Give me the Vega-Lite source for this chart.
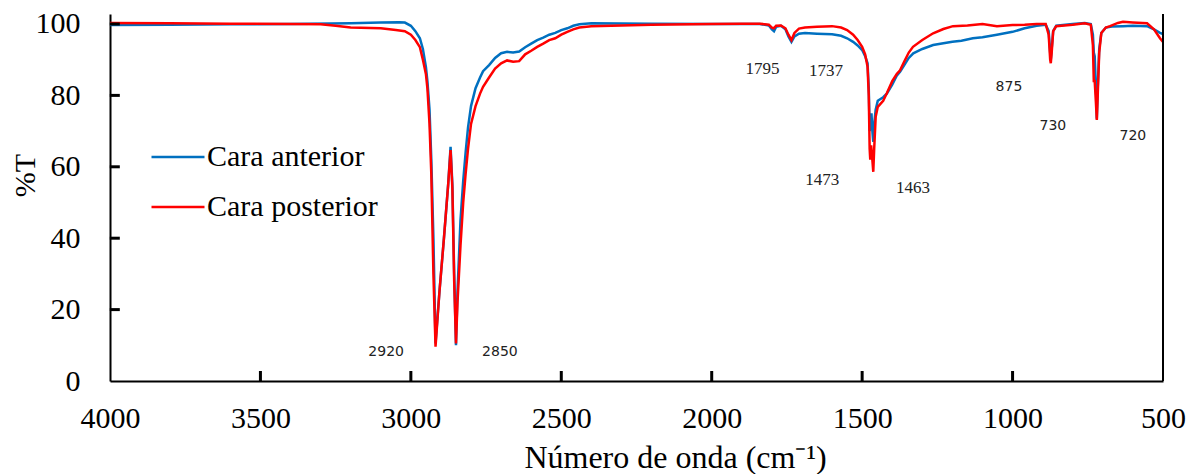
{
  "$schema": "https://vega.github.io/schema/vega-lite/v6.json",
  "width": 1053,
  "height": 367,
  "autosize": "none",
  "padding": {"left": 110, "top": 14, "right": 26, "bottom": 93},
  "background": "white",
  "config": {
    "view": {"stroke": null},
    "font": "Liberation Serif"
  },
  "datasets": {
    "spec": [
      {"wn": 4000, "T": 99.7, "s": "Cara anterior"},
      {"wn": 3800, "T": 99.8, "s": "Cara anterior"},
      {"wn": 3600, "T": 99.9, "s": "Cara anterior"},
      {"wn": 3400, "T": 100.0, "s": "Cara anterior"},
      {"wn": 3200, "T": 100.2, "s": "Cara anterior"},
      {"wn": 3100, "T": 100.4, "s": "Cara anterior"},
      {"wn": 3040, "T": 100.5, "s": "Cara anterior"},
      {"wn": 3020, "T": 100.4, "s": "Cara anterior"},
      {"wn": 3000, "T": 99.5, "s": "Cara anterior"},
      {"wn": 2985, "T": 98, "s": "Cara anterior"},
      {"wn": 2970, "T": 96, "s": "Cara anterior"},
      {"wn": 2960, "T": 93, "s": "Cara anterior"},
      {"wn": 2950, "T": 88, "s": "Cara anterior"},
      {"wn": 2945, "T": 84, "s": "Cara anterior"},
      {"wn": 2938, "T": 76, "s": "Cara anterior"},
      {"wn": 2932, "T": 62, "s": "Cara anterior"},
      {"wn": 2925, "T": 40, "s": "Cara anterior"},
      {"wn": 2918, "T": 10.5, "s": "Cara anterior"},
      {"wn": 2905, "T": 25, "s": "Cara anterior"},
      {"wn": 2890, "T": 40, "s": "Cara anterior"},
      {"wn": 2876, "T": 55, "s": "Cara anterior"},
      {"wn": 2868, "T": 65.6, "s": "Cara anterior"},
      {"wn": 2862, "T": 55, "s": "Cara anterior"},
      {"wn": 2856, "T": 30, "s": "Cara anterior"},
      {"wn": 2850, "T": 10, "s": "Cara anterior"},
      {"wn": 2845, "T": 25, "s": "Cara anterior"},
      {"wn": 2835, "T": 45, "s": "Cara anterior"},
      {"wn": 2826, "T": 56, "s": "Cara anterior"},
      {"wn": 2818, "T": 64, "s": "Cara anterior"},
      {"wn": 2810, "T": 71, "s": "Cara anterior"},
      {"wn": 2800, "T": 77, "s": "Cara anterior"},
      {"wn": 2785, "T": 82, "s": "Cara anterior"},
      {"wn": 2770, "T": 85, "s": "Cara anterior"},
      {"wn": 2760, "T": 86.8, "s": "Cara anterior"},
      {"wn": 2740, "T": 88.5, "s": "Cara anterior"},
      {"wn": 2720, "T": 90.5, "s": "Cara anterior"},
      {"wn": 2700, "T": 91.8, "s": "Cara anterior"},
      {"wn": 2680, "T": 92.2, "s": "Cara anterior"},
      {"wn": 2660, "T": 92, "s": "Cara anterior"},
      {"wn": 2640, "T": 92.3, "s": "Cara anterior"},
      {"wn": 2620, "T": 93.5, "s": "Cara anterior"},
      {"wn": 2600, "T": 94.5, "s": "Cara anterior"},
      {"wn": 2580, "T": 95.5, "s": "Cara anterior"},
      {"wn": 2560, "T": 96.2, "s": "Cara anterior"},
      {"wn": 2540, "T": 97, "s": "Cara anterior"},
      {"wn": 2520, "T": 97.5, "s": "Cara anterior"},
      {"wn": 2500, "T": 98.3, "s": "Cara anterior"},
      {"wn": 2480, "T": 98.8, "s": "Cara anterior"},
      {"wn": 2460, "T": 99.5, "s": "Cara anterior"},
      {"wn": 2440, "T": 99.9, "s": "Cara anterior"},
      {"wn": 2400, "T": 100.2, "s": "Cara anterior"},
      {"wn": 2200, "T": 100.1, "s": "Cara anterior"},
      {"wn": 2000, "T": 100, "s": "Cara anterior"},
      {"wn": 1900, "T": 100, "s": "Cara anterior"},
      {"wn": 1840, "T": 100, "s": "Cara anterior"},
      {"wn": 1810, "T": 99.6, "s": "Cara anterior"},
      {"wn": 1800, "T": 98.5, "s": "Cara anterior"},
      {"wn": 1793, "T": 98.0, "s": "Cara anterior"},
      {"wn": 1786, "T": 99.2, "s": "Cara anterior"},
      {"wn": 1770, "T": 99.5, "s": "Cara anterior"},
      {"wn": 1755, "T": 98.5, "s": "Cara anterior"},
      {"wn": 1745, "T": 96.5, "s": "Cara anterior"},
      {"wn": 1735, "T": 95, "s": "Cara anterior"},
      {"wn": 1725, "T": 96.5, "s": "Cara anterior"},
      {"wn": 1710, "T": 97.3, "s": "Cara anterior"},
      {"wn": 1690, "T": 97.5, "s": "Cara anterior"},
      {"wn": 1650, "T": 97.3, "s": "Cara anterior"},
      {"wn": 1600, "T": 97.1, "s": "Cara anterior"},
      {"wn": 1570, "T": 96.7, "s": "Cara anterior"},
      {"wn": 1550, "T": 96, "s": "Cara anterior"},
      {"wn": 1530, "T": 95, "s": "Cara anterior"},
      {"wn": 1515, "T": 94, "s": "Cara anterior"},
      {"wn": 1500, "T": 92.7, "s": "Cara anterior"},
      {"wn": 1490, "T": 91, "s": "Cara anterior"},
      {"wn": 1482, "T": 89, "s": "Cara anterior"},
      {"wn": 1478, "T": 82, "s": "Cara anterior"},
      {"wn": 1475, "T": 70, "s": "Cara anterior"},
      {"wn": 1472, "T": 72, "s": "Cara anterior"},
      {"wn": 1469, "T": 75, "s": "Cara anterior"},
      {"wn": 1466, "T": 70, "s": "Cara anterior"},
      {"wn": 1463, "T": 67, "s": "Cara anterior"},
      {"wn": 1460, "T": 72, "s": "Cara anterior"},
      {"wn": 1455, "T": 76, "s": "Cara anterior"},
      {"wn": 1448, "T": 78.5, "s": "Cara anterior"},
      {"wn": 1430, "T": 79.5, "s": "Cara anterior"},
      {"wn": 1418, "T": 80.5, "s": "Cara anterior"},
      {"wn": 1400, "T": 83, "s": "Cara anterior"},
      {"wn": 1385, "T": 85.5, "s": "Cara anterior"},
      {"wn": 1374, "T": 86.6, "s": "Cara anterior"},
      {"wn": 1360, "T": 88.5, "s": "Cara anterior"},
      {"wn": 1345, "T": 90.5, "s": "Cara anterior"},
      {"wn": 1330, "T": 91.8, "s": "Cara anterior"},
      {"wn": 1300, "T": 93, "s": "Cara anterior"},
      {"wn": 1264, "T": 94.1, "s": "Cara anterior"},
      {"wn": 1230, "T": 94.6, "s": "Cara anterior"},
      {"wn": 1200, "T": 95, "s": "Cara anterior"},
      {"wn": 1170, "T": 95.3, "s": "Cara anterior"},
      {"wn": 1132, "T": 96, "s": "Cara anterior"},
      {"wn": 1100, "T": 96.3, "s": "Cara anterior"},
      {"wn": 1052, "T": 97, "s": "Cara anterior"},
      {"wn": 1000, "T": 97.8, "s": "Cara anterior"},
      {"wn": 960, "T": 98.8, "s": "Cara anterior"},
      {"wn": 920, "T": 99.5, "s": "Cara anterior"},
      {"wn": 890, "T": 99.8, "s": "Cara anterior"},
      {"wn": 880, "T": 98, "s": "Cara anterior"},
      {"wn": 875, "T": 92, "s": "Cara anterior"},
      {"wn": 873, "T": 90, "s": "Cara anterior"},
      {"wn": 870, "T": 93, "s": "Cara anterior"},
      {"wn": 865, "T": 98, "s": "Cara anterior"},
      {"wn": 855, "T": 99.5, "s": "Cara anterior"},
      {"wn": 800, "T": 100, "s": "Cara anterior"},
      {"wn": 760, "T": 100.3, "s": "Cara anterior"},
      {"wn": 740, "T": 100, "s": "Cara anterior"},
      {"wn": 733, "T": 97, "s": "Cara anterior"},
      {"wn": 730, "T": 92, "s": "Cara anterior"},
      {"wn": 727, "T": 91, "s": "Cara anterior"},
      {"wn": 722, "T": 80, "s": "Cara anterior"},
      {"wn": 720, "T": 73.5, "s": "Cara anterior"},
      {"wn": 717, "T": 82, "s": "Cara anterior"},
      {"wn": 712, "T": 93, "s": "Cara anterior"},
      {"wn": 705, "T": 97.5, "s": "Cara anterior"},
      {"wn": 690, "T": 99, "s": "Cara anterior"},
      {"wn": 670, "T": 99.3, "s": "Cara anterior"},
      {"wn": 633, "T": 99.4, "s": "Cara anterior"},
      {"wn": 600, "T": 99.5, "s": "Cara anterior"},
      {"wn": 553, "T": 99.4, "s": "Cara anterior"},
      {"wn": 530, "T": 98.5, "s": "Cara anterior"},
      {"wn": 510, "T": 97.5, "s": "Cara anterior"},
      {"wn": 500, "T": 97.2, "s": "Cara anterior"},

      {"wn": 4000, "T": 100.3, "s": "Cara posterior"},
      {"wn": 3800, "T": 100.2, "s": "Cara posterior"},
      {"wn": 3600, "T": 100.1, "s": "Cara posterior"},
      {"wn": 3400, "T": 100.0, "s": "Cara posterior"},
      {"wn": 3300, "T": 99.9, "s": "Cara posterior"},
      {"wn": 3250, "T": 99.5, "s": "Cara posterior"},
      {"wn": 3200, "T": 99.0, "s": "Cara posterior"},
      {"wn": 3100, "T": 98.8, "s": "Cara posterior"},
      {"wn": 3050, "T": 98.3, "s": "Cara posterior"},
      {"wn": 3020, "T": 98, "s": "Cara posterior"},
      {"wn": 3000, "T": 97, "s": "Cara posterior"},
      {"wn": 2985, "T": 95.5, "s": "Cara posterior"},
      {"wn": 2970, "T": 93.5, "s": "Cara posterior"},
      {"wn": 2960, "T": 90, "s": "Cara posterior"},
      {"wn": 2950, "T": 86, "s": "Cara posterior"},
      {"wn": 2945, "T": 82, "s": "Cara posterior"},
      {"wn": 2938, "T": 72, "s": "Cara posterior"},
      {"wn": 2932, "T": 58, "s": "Cara posterior"},
      {"wn": 2925, "T": 30, "s": "Cara posterior"},
      {"wn": 2918, "T": 9.6, "s": "Cara posterior"},
      {"wn": 2905, "T": 25, "s": "Cara posterior"},
      {"wn": 2890, "T": 40, "s": "Cara posterior"},
      {"wn": 2876, "T": 55, "s": "Cara posterior"},
      {"wn": 2868, "T": 64.7, "s": "Cara posterior"},
      {"wn": 2862, "T": 54, "s": "Cara posterior"},
      {"wn": 2856, "T": 28, "s": "Cara posterior"},
      {"wn": 2850, "T": 10.5, "s": "Cara posterior"},
      {"wn": 2845, "T": 22, "s": "Cara posterior"},
      {"wn": 2835, "T": 38, "s": "Cara posterior"},
      {"wn": 2826, "T": 50, "s": "Cara posterior"},
      {"wn": 2818, "T": 58, "s": "Cara posterior"},
      {"wn": 2810, "T": 65, "s": "Cara posterior"},
      {"wn": 2800, "T": 72, "s": "Cara posterior"},
      {"wn": 2785, "T": 77, "s": "Cara posterior"},
      {"wn": 2770, "T": 80.5, "s": "Cara posterior"},
      {"wn": 2760, "T": 82.4, "s": "Cara posterior"},
      {"wn": 2740, "T": 85, "s": "Cara posterior"},
      {"wn": 2720, "T": 87.5, "s": "Cara posterior"},
      {"wn": 2700, "T": 89, "s": "Cara posterior"},
      {"wn": 2680, "T": 89.8, "s": "Cara posterior"},
      {"wn": 2660, "T": 89.4, "s": "Cara posterior"},
      {"wn": 2640, "T": 89.6, "s": "Cara posterior"},
      {"wn": 2620, "T": 91.5, "s": "Cara posterior"},
      {"wn": 2600, "T": 92.5, "s": "Cara posterior"},
      {"wn": 2580, "T": 93.6, "s": "Cara posterior"},
      {"wn": 2560, "T": 94.5, "s": "Cara posterior"},
      {"wn": 2540, "T": 95.5, "s": "Cara posterior"},
      {"wn": 2520, "T": 96, "s": "Cara posterior"},
      {"wn": 2500, "T": 97, "s": "Cara posterior"},
      {"wn": 2480, "T": 97.8, "s": "Cara posterior"},
      {"wn": 2460, "T": 98.5, "s": "Cara posterior"},
      {"wn": 2440, "T": 99, "s": "Cara posterior"},
      {"wn": 2400, "T": 99.4, "s": "Cara posterior"},
      {"wn": 2200, "T": 99.8, "s": "Cara posterior"},
      {"wn": 2000, "T": 100, "s": "Cara posterior"},
      {"wn": 1900, "T": 100.1, "s": "Cara posterior"},
      {"wn": 1840, "T": 100.1, "s": "Cara posterior"},
      {"wn": 1810, "T": 99.8, "s": "Cara posterior"},
      {"wn": 1800, "T": 99, "s": "Cara posterior"},
      {"wn": 1793, "T": 98.8, "s": "Cara posterior"},
      {"wn": 1786, "T": 99.5, "s": "Cara posterior"},
      {"wn": 1770, "T": 99.6, "s": "Cara posterior"},
      {"wn": 1755, "T": 98.8, "s": "Cara posterior"},
      {"wn": 1745, "T": 97, "s": "Cara posterior"},
      {"wn": 1735, "T": 95.5, "s": "Cara posterior"},
      {"wn": 1725, "T": 97.5, "s": "Cara posterior"},
      {"wn": 1710, "T": 98.7, "s": "Cara posterior"},
      {"wn": 1690, "T": 99, "s": "Cara posterior"},
      {"wn": 1650, "T": 99.2, "s": "Cara posterior"},
      {"wn": 1600, "T": 99.4, "s": "Cara posterior"},
      {"wn": 1570, "T": 99, "s": "Cara posterior"},
      {"wn": 1550, "T": 98.3, "s": "Cara posterior"},
      {"wn": 1530, "T": 97, "s": "Cara posterior"},
      {"wn": 1515, "T": 95.5, "s": "Cara posterior"},
      {"wn": 1500, "T": 93.6, "s": "Cara posterior"},
      {"wn": 1490, "T": 91.5, "s": "Cara posterior"},
      {"wn": 1482, "T": 88, "s": "Cara posterior"},
      {"wn": 1478, "T": 80, "s": "Cara posterior"},
      {"wn": 1475, "T": 65, "s": "Cara posterior"},
      {"wn": 1473, "T": 62, "s": "Cara posterior"},
      {"wn": 1470, "T": 66, "s": "Cara posterior"},
      {"wn": 1467, "T": 63, "s": "Cara posterior"},
      {"wn": 1463, "T": 58.6, "s": "Cara posterior"},
      {"wn": 1460, "T": 65, "s": "Cara posterior"},
      {"wn": 1455, "T": 74, "s": "Cara posterior"},
      {"wn": 1448, "T": 76.8, "s": "Cara posterior"},
      {"wn": 1430, "T": 78.5, "s": "Cara posterior"},
      {"wn": 1418, "T": 80.6, "s": "Cara posterior"},
      {"wn": 1400, "T": 84, "s": "Cara posterior"},
      {"wn": 1385, "T": 86, "s": "Cara posterior"},
      {"wn": 1374, "T": 87, "s": "Cara posterior"},
      {"wn": 1360, "T": 89.5, "s": "Cara posterior"},
      {"wn": 1345, "T": 92, "s": "Cara posterior"},
      {"wn": 1331, "T": 93.6, "s": "Cara posterior"},
      {"wn": 1300, "T": 95.5, "s": "Cara posterior"},
      {"wn": 1264, "T": 97.4, "s": "Cara posterior"},
      {"wn": 1230, "T": 98.6, "s": "Cara posterior"},
      {"wn": 1198, "T": 99.4, "s": "Cara posterior"},
      {"wn": 1150, "T": 99.6, "s": "Cara posterior"},
      {"wn": 1100, "T": 100, "s": "Cara posterior"},
      {"wn": 1052, "T": 99.4, "s": "Cara posterior"},
      {"wn": 1000, "T": 99.7, "s": "Cara posterior"},
      {"wn": 960, "T": 99.8, "s": "Cara posterior"},
      {"wn": 920, "T": 100, "s": "Cara posterior"},
      {"wn": 890, "T": 100, "s": "Cara posterior"},
      {"wn": 880, "T": 97, "s": "Cara posterior"},
      {"wn": 875, "T": 90, "s": "Cara posterior"},
      {"wn": 873, "T": 89, "s": "Cara posterior"},
      {"wn": 870, "T": 92, "s": "Cara posterior"},
      {"wn": 865, "T": 98, "s": "Cara posterior"},
      {"wn": 855, "T": 99.4, "s": "Cara posterior"},
      {"wn": 800, "T": 99.8, "s": "Cara posterior"},
      {"wn": 760, "T": 100.2, "s": "Cara posterior"},
      {"wn": 740, "T": 99.8, "s": "Cara posterior"},
      {"wn": 733, "T": 94, "s": "Cara posterior"},
      {"wn": 730, "T": 84, "s": "Cara posterior"},
      {"wn": 727, "T": 84, "s": "Cara posterior"},
      {"wn": 723, "T": 78, "s": "Cara posterior"},
      {"wn": 720, "T": 73.1, "s": "Cara posterior"},
      {"wn": 717, "T": 80, "s": "Cara posterior"},
      {"wn": 712, "T": 92, "s": "Cara posterior"},
      {"wn": 705, "T": 97.5, "s": "Cara posterior"},
      {"wn": 690, "T": 99, "s": "Cara posterior"},
      {"wn": 676, "T": 99.4, "s": "Cara posterior"},
      {"wn": 650, "T": 100.3, "s": "Cara posterior"},
      {"wn": 633, "T": 100.6, "s": "Cara posterior"},
      {"wn": 600, "T": 100.4, "s": "Cara posterior"},
      {"wn": 553, "T": 100.2, "s": "Cara posterior"},
      {"wn": 530, "T": 98.5, "s": "Cara posterior"},
      {"wn": 510, "T": 96, "s": "Cara posterior"},
      {"wn": 500, "T": 95, "s": "Cara posterior"}
    ],
    "sansLabels": [
      {"wn": 3082, "T": 8.1, "label": "2920"},
      {"wn": 2704, "T": 8.1, "label": "2850"},
      {"wn": 1012, "T": 82.4, "label": "875"},
      {"wn": 866, "T": 71.4, "label": "730"},
      {"wn": 600, "T": 68.6, "label": "720"}
    ],
    "serifLabels": [
      {"wn": 1831, "T": 87.4, "label": "1795"},
      {"wn": 1620, "T": 86.8, "label": "1737"},
      {"wn": 1633, "T": 56.3, "label": "1473"},
      {"wn": 1331, "T": 54.1, "label": "1463"}
    ],
    "xticks": [
      {"wn": 3500}, {"wn": 3000}, {"wn": 2500}, {"wn": 2000}, {"wn": 1500}, {"wn": 1000}
    ],
    "yticks": [
      {"T": 20}, {"T": 40}, {"T": 60}, {"T": 80}, {"T": 100}
    ]
  },
  "layer": [
    {
      "data": {"name": "spec"},
      "mark": {"type": "line", "strokeWidth": 2.5, "interpolate": "linear"},
      "encoding": {
        "x": {
          "field": "wn", "type": "quantitative",
          "scale": {"domain": [500, 4000], "reverse": true, "nice": false, "zero": false},
          "axis": {
            "title": "Número de onda (cm⁻¹)",
            "values": [4000, 3500, 3000, 2500, 2000, 1500, 1000, 500],
            "format": "d",
            "grid": false,
            "ticks": false,
            "domainColor": "black", "domainWidth": 2,
            "labelFont": "Liberation Serif", "labelFontSize": 30, "labelColor": "black",
            "labelPadding": 22, "labelFlush": false, "labelOverlap": false,
            "titleFont": "Liberation Serif", "titleFontSize": 32, "titleFontWeight": "normal", "titleColor": "black",
            "titleX": 565, "titleY": 86, "titleBaseline": "alphabetic", "titleAlign": "center"
          }
        },
        "y": {
          "field": "T", "type": "quantitative",
          "scale": {"domain": [0, 102.8], "nice": false, "zero": true},
          "axis": {
            "title": "%T",
            "values": [0, 20, 40, 60, 80, 100],
            "grid": false,
            "ticks": false,
            "domainColor": "black", "domainWidth": 2,
            "labelFont": "Liberation Serif", "labelFontSize": 30, "labelColor": "black",
            "labelPadding": 30, "labelFlush": false, "labelOverlap": false,
            "titleFont": "Liberation Serif", "titleFontSize": 30, "titleFontWeight": "normal", "titleColor": "black",
            "titleX": -85, "titleY": 161, "titleAngle": 270, "titleBaseline": "middle", "titleAlign": "center"
          }
        },
        "color": {
          "field": "s", "type": "nominal",
          "scale": {"domain": ["Cara anterior", "Cara posterior"], "range": ["#0070C0", "#FF0000"]},
          "legend": {
            "title": null,
            "orient": "none",
            "legendX": 40,
            "legendY": 115,
            "symbolType": "stroke",
            "symbolSize": 2809,
            "symbolStrokeWidth": 2.5,
            "labelFont": "Liberation Serif",
            "labelFontSize": 30,
            "labelColor": "black",
            "labelOffset": 1,
            "rowPadding": 7,
            "labelLimit": 400
          }
        }
      }
    },
    {
      "data": {"values": [{"x": 500}]},
      "mark": {"type": "rule", "color": "black", "strokeWidth": 2},
      "encoding": {"x": {"field": "x", "type": "quantitative"}}
    },
    {
      "data": {"name": "xticks"},
      "mark": {"type": "tick", "orient": "vertical", "color": "black", "opacity": 1, "size": 10, "thickness": 3},
      "encoding": {
        "x": {"field": "wn", "type": "quantitative"},
        "y": {"datum": 1.4, "type": "quantitative"}
      }
    },
    {
      "data": {"name": "yticks"},
      "mark": {"type": "tick", "orient": "horizontal", "color": "black", "opacity": 1, "size": 10, "thickness": 3},
      "encoding": {
        "y": {"field": "T", "type": "quantitative"},
        "x": {"datum": 3984, "type": "quantitative"}
      }
    },
    {
      "data": {"name": "sansLabels"},
      "mark": {"type": "text", "font": "DejaVu Sans", "fontSize": 14, "color": "#222222", "align": "center", "baseline": "middle"},
      "encoding": {
        "x": {"field": "wn", "type": "quantitative"},
        "y": {"field": "T", "type": "quantitative"},
        "text": {"field": "label"}
      }
    },
    {
      "data": {"name": "serifLabels"},
      "mark": {"type": "text", "font": "Liberation Serif", "fontSize": 17, "color": "#222222", "align": "center", "baseline": "middle"},
      "encoding": {
        "x": {"field": "wn", "type": "quantitative"},
        "y": {"field": "T", "type": "quantitative"},
        "text": {"field": "label"}
      }
    }
  ]
}
